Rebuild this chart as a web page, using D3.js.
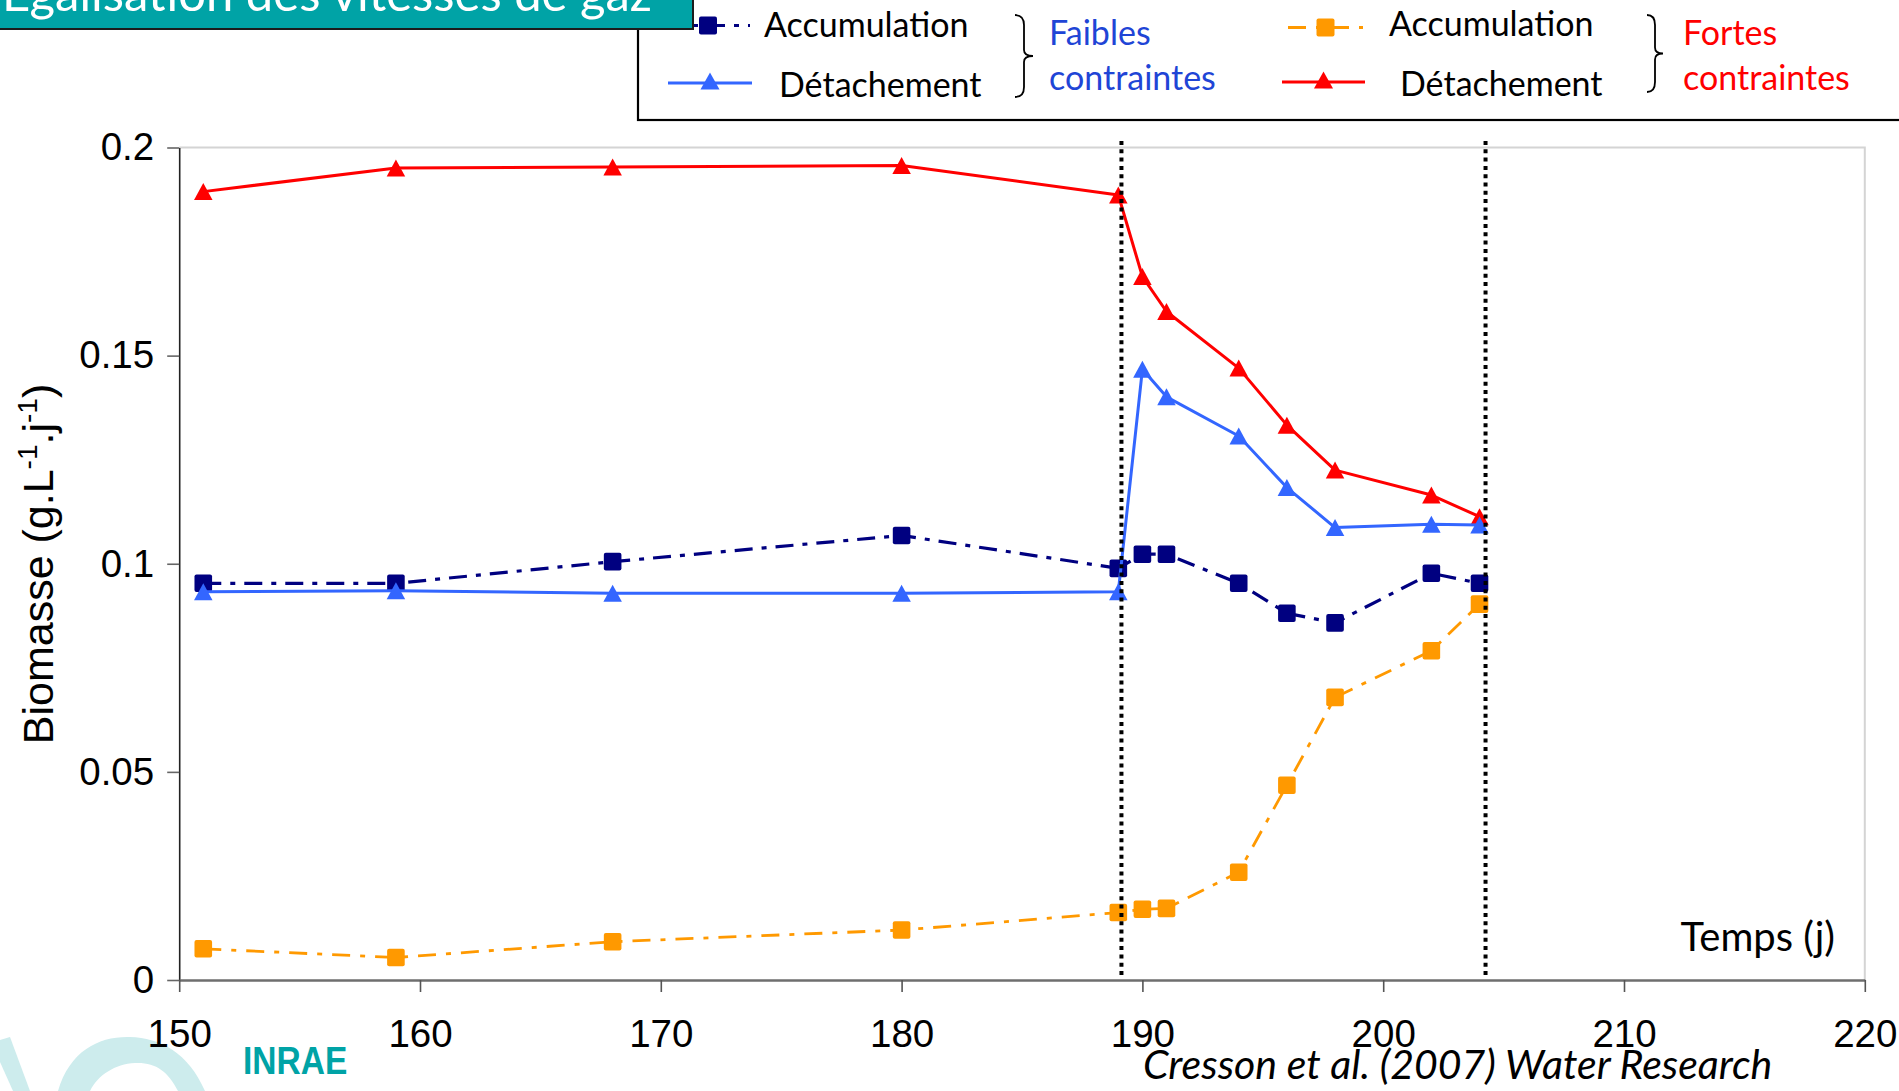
<!DOCTYPE html>
<html><head><meta charset="utf-8">
<script src="https://cdn.jsdelivr.net/npm/d3@7"></script>
<style>html,body{margin:0;padding:0;background:#fff;overflow:hidden}svg{display:block}</style>
</head><body>
<svg id="c" width="1899" height="1091"></svg>
<script>
// ---- data ----
const days       = [151, 159, 168, 180, 189, 190, 191, 194, 196, 198, 202, 204];
const accFaibles = [0.0953, 0.0953, 0.1005, 0.1068, 0.0989, 0.1023, 0.1023, 0.0953, 0.0881, 0.0858, 0.0977, 0.0953];
const detFaibles = [0.0933, 0.0935, 0.0929, 0.0929, 0.0933, 0.1467, 0.1401, 0.1307, 0.1183, 0.1087, 0.1095, 0.1093];
const accFortes  = [0.0075, 0.0054, 0.0092, 0.0120, 0.0162, 0.0170, 0.0172, 0.0259, 0.0468, 0.0679, 0.0791, 0.0903];
const detFortes  = [0.1894, 0.1951, 0.1953, 0.1957, 0.1886, 0.1690, 0.1606, 0.1470, 0.1333, 0.1225, 0.1165, 0.1113];
const xTicks = [150, 160, 170, 180, 190, 200, 210, 220];
const yTicks = [0, 0.05, 0.1, 0.15, 0.2];
const yTickLabels = ["0", "0.05", "0.1", "0.15", "0.2"];
const periodBounds = [189.13, 204.25];
const seriesNames = ["Accumulation", "Détachement"];
const groupFaibles = ["Faibles", "contraintes"];
const groupFortes = ["Fortes", "contraintes"];
const titleText = "Égalisation des vitesses de gaz";
const xTitle = "Temps (j)";
const citation = "Cresson et al. (2007) Water Research";

// ---- setup ----
const svg = d3.select("#c");
const x = d3.scaleLinear().domain([150, 220]).range([179.2, 1864.8]);
const y = d3.scaleLinear().domain([0, 0.2]).range([980, 147.5]);
const LATO = "Lato, 'Open Sans', sans-serif";
const ARIAL = "'Liberation Sans', Arial, sans-serif";

// watermark (bottom-left)
svg.append("path").attr("fill", "#cdeced")
  .attr("d", "M0,1040 L10,1037 L30,1091 L13,1091 L0,1062 Z");
svg.append("path").attr("fill", "#cdeced")
  .attr("d", "M58,1091 C70,1050 100,1036 130,1037 C160,1038 188,1052 205,1091 L178,1091 C168,1071 155,1062 135,1063 C115,1064 98,1075 90,1091 Z");

// plot frame (top/right light gray)
svg.append("path").attr("fill", "none").attr("stroke", "#d4d4d4").attr("stroke-width", 2)
  .attr("d", `M${x(150)},${y(0.2)}H${x(220)}V${y(0)}`);

// axes
const gy = svg.append("g").attr("transform", `translate(${x(150)},0)`)
  .call(d3.axisLeft(y).tickValues(yTicks).tickFormat((d, i) => yTickLabels[i]).tickSize(12).tickSizeOuter(0).tickPadding(13));
gy.select(".domain").attr("stroke", "#222").attr("stroke-width", 1.6);
gy.selectAll(".tick line").attr("stroke", "#666").attr("stroke-width", 1.6);
gy.selectAll(".tick text").attr("font-family", ARIAL).attr("font-size", 38.5).attr("fill", "#000");

const gx = svg.append("g").attr("transform", `translate(0,${y(0)})`)
  .call(d3.axisBottom(x).tickValues(xTicks).tickFormat(d3.format("d")).tickSize(12).tickSizeOuter(0).tickPadding(28));
gx.select(".domain").attr("stroke", "#6e6e6e").attr("stroke-width", 2.6);
gx.selectAll(".tick line").attr("stroke", "#555").attr("stroke-width", 1.6);
gx.selectAll(".tick text").attr("font-family", ARIAL).attr("font-size", 38.5).attr("fill", "#000");

// y title
const yt = svg.append("text").attr("transform", "translate(53,564) rotate(-90)")
  .attr("text-anchor", "middle").attr("font-family", ARIAL).attr("font-size", 43).attr("fill", "#000");
yt.append("tspan").text("Biomasse (g.L");
yt.append("tspan").attr("font-size", 28).attr("dy", -16).text("-1");
yt.append("tspan").attr("dy", 16).text(".j");
yt.append("tspan").attr("font-size", 28).attr("dy", -16).text("-1");
yt.append("tspan").attr("dy", 16).text(")");

// series
const rows = days.map((d, i) => ({d, af: accFaibles[i], df: detFaibles[i], ac: accFortes[i], dc: detFortes[i]}));
const series = [
  {key: "dc", color: "#ff0000", dash: null, width: 3, marker: "tri"},
  {key: "ac", color: "#ff9900", dash: "18,10,5,10", width: 2.8, marker: "sq"},
  {key: "af", color: "#000080", dash: "18,9,5,9", width: 3.2, marker: "sq"},
  {key: "df", color: "#3366ff", dash: null, width: 3, marker: "tri"},
];
function tri(cx, cy, w, h) { return `M${cx},${cy - h / 2}L${cx + w / 2},${cy + h / 2}L${cx - w / 2},${cy + h / 2}Z`; }
series.forEach(s => {
  const line = d3.line().x(r => x(r.d)).y(r => y(r[s.key]));
  svg.append("path").datum(rows).attr("d", line).attr("fill", "none")
    .attr("stroke", s.color).attr("stroke-width", s.width)
    .attr("stroke-dasharray", s.dash).attr("stroke-linejoin", "round");
  const g = svg.append("g").attr("fill", s.color);
  if (s.marker === "sq") {
    g.selectAll("rect").data(rows).join("rect")
      .attr("x", r => x(r.d) - 8.8).attr("y", r => y(r[s.key]) - 8.8)
      .attr("width", 17.6).attr("height", 17.6).attr("rx", 2);
  } else {
    g.selectAll("path").data(rows).join("path").attr("d", r => tri(x(r.d), y(r[s.key]), 18.5, 17));
  }
});

// dotted period lines
svg.selectAll("line.period").data(periodBounds).join("line").attr("class", "period")
  .attr("x1", d => x(d)).attr("x2", d => x(d)).attr("y1", 141).attr("y2", 977)
  .attr("stroke", "#000").attr("stroke-width", 4).attr("stroke-dasharray", "4,4.3");

// x title + citation
svg.append("text").attr("x", 1835).attr("y", 951).attr("text-anchor", "end")
  .attr("font-family", LATO).attr("font-size", 40).attr("fill", "#000").text(xTitle);
svg.append("text").attr("x", 1143).attr("y", 1079)
  .attr("font-family", LATO).attr("font-style", "italic").attr("font-size", 41).attr("fill", "#000").text(citation);

// INRAE logo
svg.append("text").attr("transform", "translate(243,1074) scale(0.86,1)")
  .attr("font-family", ARIAL).attr("font-weight", "bold")
  .attr("font-size", 39).attr("fill", "#00a3a6").text("INRAE");

// legend box
svg.append("rect").attr("x", 638).attr("y", -10).attr("width", 1300).attr("height", 130)
  .attr("fill", "#fff").attr("stroke", "#000").attr("stroke-width", 2.2);

const legendItems = [
  {label: seriesNames[0], color: "#000080", dash: "18,9,5,9", marker: "sq", x1: 666, x2: 750, cy: 25.5, tx: 764, ty: 37},
  {label: seriesNames[1], color: "#3366ff", dash: null, marker: "tri", x1: 668, x2: 752, cy: 83, tx: 779, ty: 97},
  {label: seriesNames[0], color: "#ff9900", dash: "18,10,5,10", marker: "sq", x1: 1288, x2: 1363, cy: 27.5, tx: 1389, ty: 36},
  {label: seriesNames[1], color: "#ff0000", dash: null, marker: "tri", x1: 1282, x2: 1365, cy: 82, tx: 1400, ty: 96},
];
legendItems.forEach(it => {
  const cx = (it.x1 + it.x2) / 2;
  svg.append("line").attr("x1", it.x1).attr("x2", it.x2).attr("y1", it.cy).attr("y2", it.cy)
    .attr("stroke", it.color).attr("stroke-width", 3).attr("stroke-dasharray", it.dash);
  if (it.marker === "sq") {
    svg.append("rect").attr("x", cx - 9).attr("y", it.cy - 9).attr("width", 18).attr("height", 18).attr("rx", 2).attr("fill", it.color);
  } else {
    svg.append("path").attr("d", tri(cx, it.cy - 2, 19, 17)).attr("fill", it.color);
  }
  svg.append("text").attr("x", it.tx).attr("y", it.ty).attr("font-family", LATO).attr("font-size", 34)
    .attr("fill", "#000").text(it.label);
});

function brace(x0, y0, y1, w) {
  const m = (y0 + y1) / 2, xm = x0 + w * 0.5;
  return `M${x0},${y0} Q${xm},${y0} ${xm},${y0 + 10} L${xm},${m - 6} Q${xm},${m} ${x0 + w},${m} Q${xm},${m} ${xm},${m + 6} L${xm},${y1 - 10} Q${xm},${y1} ${x0},${y1}`;
}
svg.append("path").attr("d", brace(1015, 15, 97, 18)).attr("fill", "none").attr("stroke", "#000").attr("stroke-width", 1.8);
svg.append("path").attr("d", brace(1647, 15, 92, 16)).attr("fill", "none").attr("stroke", "#000").attr("stroke-width", 1.8);

[[groupFaibles, 1049, "#1f45d6"], [groupFortes, 1683, "#ff0000"]].forEach(([lines, gx0, col]) => {
  svg.append("text").attr("x", gx0).attr("y", 45).attr("font-family", LATO).attr("font-size", 34).attr("fill", col).text(lines[0]);
  svg.append("text").attr("x", gx0).attr("y", 90).attr("font-family", LATO).attr("font-size", 34).attr("fill", col).text(lines[1]);
});

// title bar
svg.append("rect").attr("x", -5).attr("y", -5).attr("width", 699).attr("height", 35).attr("fill", "#1c1c1c");
svg.append("rect").attr("x", -5).attr("y", -5).attr("width", 697).attr("height", 33).attr("fill", "#00a3a6");
svg.append("text").attr("x", 2).attr("y", 11).attr("font-family", LATO).attr("font-size", 49).attr("fill", "#fff").text(titleText);
</script>
</body></html>
